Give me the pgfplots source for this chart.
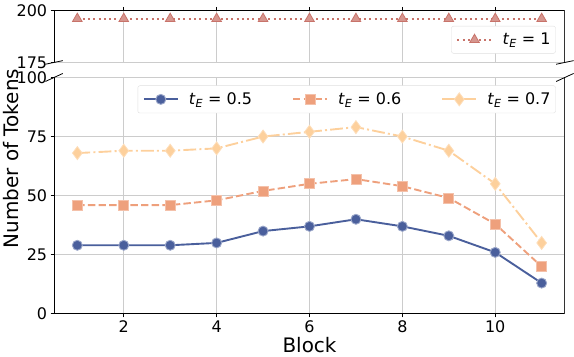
\documentclass[border=0pt]{standalone}
\usepackage{pgfplots}
\pgfplotsset{compat=1.18}
\usepackage{fontspec}
\setmainfont{DejaVu Sans}
\definecolor{cA}{HTML}{4A5F9C}
\definecolor{cB}{HTML}{EEA07C}
\definecolor{cC}{HTML}{FDD09C}
\definecolor{cD}{HTML}{C8736A}
\newcommand{\tE}[1]{\textit{t}\textsubscript{\textit{E}} = #1}
\pgfplotsset{
  common/.style={
    scale only axis, width=510bp, xmin=0.5, xmax=11.5,
    xtick={2,4,6,8,10},
    grid=major, major grid style={draw=gray!40, line width=0.8pt},
    axis line style={draw=none},
    tick align=outside, major tick length=3.5bp,
    tick style={black, line width=0.8pt},
    ticklabel style={font=\fontsize{16}{16}\selectfont},
    /pgf/number format/assume math mode=true,
    clip=false,
    legend style={font=\fontsize{16}{16}\selectfont, draw=gray!25, rounded corners=2pt, fill=white, inner xsep=3bp, inner ysep=5bp},
    legend cell align=left,
    legend image code/.code={\path (-2bp,0bp) (42bp,0bp);\draw[mark repeat=2,mark phase=2] plot coordinates {(0bp,0bp) (17bp,0bp) (34bp,0bp)};},
  }
}
\begin{document}
\begin{tikzpicture}
\begin{axis}[common, at={(0,0)}, anchor=south west, height=236bp,
  ymin=0, ymax=100, ytick={0,25,50,75,100}, ytick pos=left, xtick pos=bottom,
  xlabel={Block}, xlabel style={font=\fontsize{20}{20}\selectfont, yshift=2bp},
  legend columns=3,
  legend style={at={(0.982,0.966)}, anchor=north east, /tikz/every even column/.append style={column sep=36bp}}]
\addplot[cA, line width=1.9pt, mark=*, mark size=5bp, mark options={fill=cA, draw=cA!55!white, line width=0.9pt}]
  coordinates {(1,29) (2,29) (3,29) (4,30) (5,35) (6,37) (7,40) (8,37) (9,33) (10,26) (11,13)};
\addlegendentry{\tE{0.5}}
\addplot[cB, line width=1.9pt, dash pattern=on 7.4bp off 3.2bp, mark=square*, mark size=5bp, mark options={solid, fill=cB, draw=cB!65!white, line width=0.8pt}]
  coordinates {(1,46) (2,46) (3,46) (4,48) (5,52) (6,55) (7,57) (8,54) (9,49) (10,38) (11,20)};
\addlegendentry{\tE{0.6}}
\addplot[cC, line width=1.9pt, dash pattern=on 12.8bp off 3.2bp on 2bp off 3.2bp, mark=diamond*, mark size=6.5bp, mark options={solid, fill=cC, draw=cC!70!white, line width=0.8pt}]
  coordinates {(1,68) (2,69) (3,69) (4,70) (5,75) (6,77) (7,79) (8,75) (9,69) (10,55) (11,30)};
\addlegendentry{\tE{0.7}}
\draw[black, line width=0.8pt] (rel axis cs:0,1) -- (rel axis cs:0,0) -- (rel axis cs:1,0);
\draw[black!80, line width=0.8pt] (rel axis cs:1,0) -- (rel axis cs:1,1);
\draw[black, line width=0.8pt] ([xshift=-8.7bp,yshift=-4bp]rel axis cs:0,1) -- ([xshift=8.7bp,yshift=4bp]rel axis cs:0,1);
\draw[black, line width=0.8pt] ([xshift=-8.7bp,yshift=-4bp]rel axis cs:1,1) -- ([xshift=8.7bp,yshift=4bp]rel axis cs:1,1);
\end{axis}
\begin{axis}[common, at={(0,251bp)}, anchor=south west, height=52bp,
  ymin=175, ymax=200, ytick={175,200}, ytick pos=left, xtick pos=top, xticklabels={},
  legend style={at={(0.982,0.7)}, anchor=north east}]
\addplot[cD, line width=1.9pt, dash pattern=on 2bp off 3.3bp, mark=triangle*, mark size=5.5bp, mark options={solid, fill=cD!75!white, draw=cD, line width=0.8pt}]
  coordinates {(1,196) (2,196) (3,196) (4,196) (5,196) (6,196) (7,196) (8,196) (9,196) (10,196) (11,196)};
\addlegendentry{\tE{1}}
\draw[black, line width=0.8pt] (rel axis cs:0,0) -- (rel axis cs:0,1) -- (rel axis cs:1,1);
\draw[black!80, line width=0.8pt] (rel axis cs:1,1) -- (rel axis cs:1,0);
\draw[black, line width=0.8pt] ([xshift=-8.7bp,yshift=-1.8bp]rel axis cs:0,0) -- ([xshift=8.7bp,yshift=1.8bp]rel axis cs:0,0);
\draw[black, line width=0.8pt] ([xshift=-8.7bp,yshift=-1.8bp]rel axis cs:1,0) -- ([xshift=8.7bp,yshift=1.8bp]rel axis cs:1,0);
\end{axis}
\node[rotate=90, font=\fontsize{20}{20}\selectfont] at (-43bp,155bp) {Number of Tokens};
\end{tikzpicture}
\end{document}
